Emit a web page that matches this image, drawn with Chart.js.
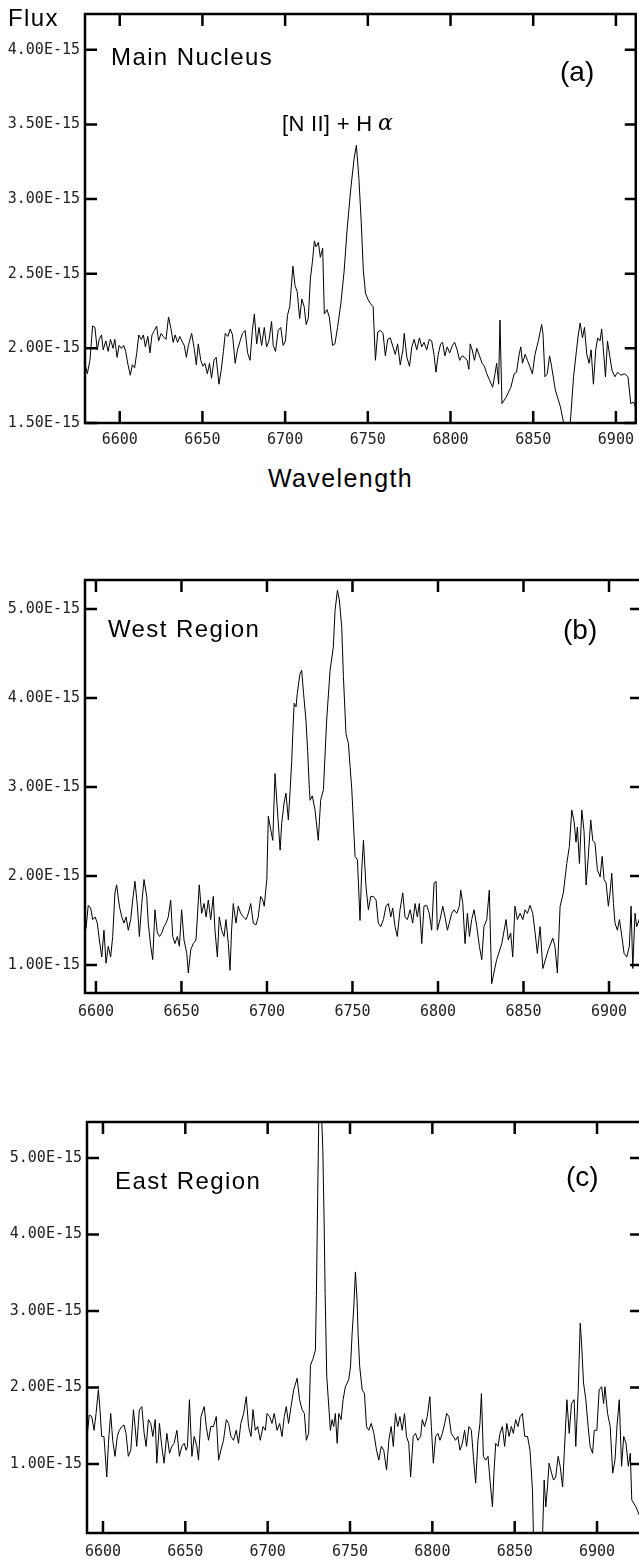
<!DOCTYPE html>
<html>
<head>
<meta charset="utf-8">
<script src="https://cdn.jsdelivr.net/npm/chart.js@4.4.1/dist/chart.umd.min.js"></script>
<style>
  html, body { margin: 0; padding: 0; background: #fff; overflow: hidden; width: 639px; height: 1560px; }
  canvas { position: absolute; left: 0; }
  .lbl {
    position: absolute; white-space: nowrap; color: #000;
    font-family: "Liberation Sans", Arial, sans-serif;
    font-size: 24px; line-height: 24px; letter-spacing: 1.4px;
  }
</style>
</head>
<body>
<canvas id="chartA" width="642" height="460" style="top:0px"></canvas>
<canvas id="chartB" width="642" height="465" style="top:560px"></canvas>
<canvas id="chartC" width="642" height="460" style="top:1100px"></canvas>

<div class="lbl" style="left:8px;top:6px">Flux</div>
<div class="lbl" style="left:111px;top:45px">Main Nucleus</div>
<div class="lbl" style="left:560px;top:58px;font-size:28px;line-height:28px;letter-spacing:0">(a)</div>
<div class="lbl" style="left:282px;top:113px;font-size:22px;line-height:22px;letter-spacing:0.3px">[N II] + H</div>
<div class="lbl" style="left:378px;top:112px;font-family:'DejaVu Serif',serif;font-style:italic;font-size:22px;line-height:22px;letter-spacing:0">α</div>
<div class="lbl" style="left:268px;top:466px;font-size:25px;line-height:25px">Wavelength</div>

<div class="lbl" style="left:108px;top:617px">West Region</div>
<div class="lbl" style="left:563px;top:616px;font-size:28px;line-height:28px;letter-spacing:0">(b)</div>

<div class="lbl" style="left:115px;top:1169px">East Region</div>
<div class="lbl" style="left:566px;top:1163px;font-size:28px;line-height:28px;letter-spacing:0">(c)</div>

<script>
// wavelength ticks shared by all panels
const waveTicks = [6600, 6650, 6700, 6750, 6800, 6850, 6900]

// (a) Main Nucleus, flux in units of 1E-15
const waveA = [6579.0, 6580.4, 6582.0, 6583.6, 6585.0, 6586.4, 6587.6, 6589.0, 6590.0, 6591.6, 6593.0, 6594.4, 6596.0, 6597.0, 6598.4, 6599.6,
  6601.0, 6602.4, 6603.6, 6605.0, 6606.4, 6607.6, 6609.0, 6610.3, 6611.5, 6613.0, 6614.3, 6615.5, 6617.0, 6618.3, 6619.5, 6621.0,
  6622.3, 6623.5, 6625.0, 6626.3, 6628.0, 6629.5, 6631.0, 6632.3, 6633.5, 6635.0, 6636.3, 6637.5, 6639.0, 6640.3, 6641.5, 6643.5,
  6645.0, 6646.3, 6647.5, 6649.0, 6650.3, 6651.5, 6653.0, 6654.3, 6655.5, 6657.0, 6658.3, 6660.0, 6661.3, 6662.7, 6663.8, 6665.4,
  6666.8, 6668.2, 6669.8, 6671.2, 6672.8, 6674.2, 6675.8, 6677.3, 6678.8, 6680.2, 6681.4, 6682.8, 6684.2, 6685.8, 6687.4, 6688.8,
  6690.2, 6691.8, 6692.8, 6694.2, 6695.8, 6697.4, 6698.8, 6700.2, 6701.4, 6702.8, 6704.7, 6706.0, 6707.3, 6708.8, 6710.1, 6711.5,
  6712.7, 6714.0, 6715.3, 6716.5, 6717.7, 6718.7, 6720.1, 6721.3, 6722.7, 6723.7, 6725.3, 6726.7, 6728.7, 6730.1, 6731.7, 6733.7,
  6735.7, 6737.5, 6739.7, 6741.7, 6743.1, 6744.6, 6746.0, 6747.3, 6748.6, 6750.0, 6751.6, 6753.2, 6754.6, 6756.0, 6757.6, 6759.2,
  6760.6, 6762.0, 6763.6, 6765.2, 6766.6, 6768.0, 6769.6, 6771.2, 6772.0, 6773.6, 6775.2, 6776.6, 6778.0, 6779.6, 6781.2, 6782.6,
  6784.0, 6785.6, 6787.2, 6788.6, 6790.0, 6791.2, 6792.6, 6794.0, 6795.2, 6796.6, 6798.0, 6799.5, 6801.2, 6802.5, 6804.0, 6805.5,
  6807.1, 6808.5, 6810.0, 6811.1, 6811.9, 6813.1, 6814.5, 6815.9, 6817.5, 6819.1, 6820.5, 6821.9, 6823.5, 6825.5, 6826.9, 6827.9,
  6829.1, 6829.9, 6831.1, 6833.5, 6836.5, 6838.5, 6839.9, 6841.5, 6842.5, 6843.5, 6845.1, 6846.5, 6847.9, 6849.5, 6851.1, 6853.1,
  6855.1, 6855.9, 6857.1, 6858.5, 6859.9, 6861.1, 6863.4, 6866.4, 6868.4, 6870.4, 6872.4, 6874.4, 6877.0, 6878.4, 6879.8, 6881.0,
  6882.4, 6883.8, 6885.0, 6886.4, 6887.8, 6889.0, 6890.4, 6891.4, 6892.3, 6893.7, 6894.9, 6896.4, 6897.7, 6899.4, 6901.0, 6903.0,
  6905.3, 6907.3, 6909.0, 6910.7, 6912.0]
const fluxA = [1.90, 1.83, 1.92, 2.15, 2.14, 1.99, 2.06, 2.09, 1.99, 2.05, 1.98, 2.06, 2.00, 2.06, 1.94, 2.02,
  2.00, 2.02, 1.98, 1.89, 1.82, 1.89, 1.87, 1.97, 2.09, 2.06, 2.09, 2.01, 2.08, 1.97, 2.09, 2.12,
  2.15, 2.05, 2.10, 2.08, 2.06, 2.21, 2.13, 2.04, 2.09, 2.04, 2.08, 2.05, 2.02, 1.94, 2.02, 2.10,
  2.00, 1.89, 2.03, 1.92, 1.88, 1.90, 1.83, 1.90, 1.80, 1.92, 1.94, 1.76, 1.85, 1.98, 2.10, 2.08,
  2.13, 2.09, 1.90, 1.99, 2.05, 2.10, 2.12, 1.97, 1.92, 2.12, 2.23, 2.03, 2.14, 2.02, 2.14, 2.01,
  2.05, 2.18, 2.02, 1.98, 2.12, 2.14, 2.02, 2.05, 2.22, 2.28, 2.55, 2.42, 2.38, 2.20, 2.33, 2.28,
  2.16, 2.20, 2.47, 2.58, 2.72, 2.68, 2.71, 2.61, 2.67, 2.23, 2.26, 2.21, 2.02, 2.03, 2.14, 2.30,
  2.52, 2.80, 3.07, 3.27, 3.36, 3.14, 2.85, 2.52, 2.37, 2.33, 2.30, 2.28, 1.92, 2.11, 2.12, 2.10,
  1.95, 2.06, 2.07, 2.01, 1.96, 2.03, 1.89, 1.99, 2.10, 1.94, 1.88, 2.01, 2.06, 1.99, 2.07, 2.01,
  2.04, 1.99, 2.06, 2.05, 1.96, 1.84, 1.96, 2.03, 2.04, 1.95, 2.01, 1.97, 2.02, 2.04, 1.99, 1.92,
  1.95, 1.94, 1.92, 1.86, 2.03, 1.99, 1.92, 2.00, 1.95, 1.90, 1.88, 1.83, 1.79, 1.74, 1.83, 1.90,
  1.76, 2.19, 1.63, 1.67, 1.74, 1.83, 1.84, 1.96, 2.01, 1.90, 1.96, 1.92, 1.88, 1.83, 1.96, 2.05,
  2.16, 2.10, 1.81, 1.83, 1.95, 1.88, 1.72, 1.61, 1.50, 1.38, 1.50, 1.81, 2.07, 2.17, 2.07, 2.14,
  1.96, 1.90, 1.99, 1.76, 1.99, 2.07, 2.05, 2.13, 2.01, 1.81, 2.05, 1.94, 1.85, 1.81, 1.84, 1.82,
  1.83, 1.81, 1.63, 1.64, 1.60]
const fluxTicksA = [1.5, 2.0, 2.5, 3.0, 3.5, 4.0]

// (b) West Region
const waveB = [6594.2, 6595.5, 6596.9, 6598.1, 6599.5, 6600.8, 6602.0, 6603.4, 6604.7, 6605.9, 6607.2, 6608.6, 6609.8, 6611.1, 6612.1, 6613.7,
  6615.1, 6616.4, 6617.6, 6618.9, 6620.3, 6621.5, 6622.8, 6624.2, 6625.4, 6626.8, 6628.1, 6629.7, 6630.6, 6632.0, 6633.2, 6634.5,
  6635.9, 6637.2, 6638.5, 6639.8, 6641.0, 6642.3, 6643.7, 6644.9, 6646.2, 6647.6, 6648.8, 6650.1, 6651.5, 6653.1, 6654.0, 6655.4,
  6656.9, 6658.5, 6659.3, 6660.4, 6661.8, 6663.2, 6664.4, 6665.7, 6667.1, 6668.6, 6669.6, 6671.0, 6672.1, 6673.5, 6674.9, 6676.0,
  6677.4, 6678.4, 6679.3, 6680.3, 6681.9, 6683.2, 6684.6, 6686.2, 6687.8, 6689.1, 6690.5, 6692.0, 6693.6, 6694.9, 6696.3, 6697.5,
  6698.4, 6699.9, 6700.8, 6702.2, 6703.4, 6704.7, 6706.1, 6707.7, 6708.6, 6710.0, 6711.1, 6712.5, 6713.5, 6714.5, 6715.1, 6715.9,
  6717.0, 6717.7, 6719.3, 6720.3, 6721.4, 6722.8, 6723.8, 6724.8, 6725.2, 6726.5, 6728.1, 6730.0, 6731.4, 6733.0, 6734.9, 6736.9,
  6738.8, 6739.8, 6741.2, 6742.3, 6743.7, 6744.7, 6746.2, 6747.6, 6748.6, 6749.6, 6751.5, 6752.9, 6754.4, 6755.4, 6756.4, 6757.9,
  6759.3, 6760.7, 6762.2, 6763.8, 6765.1, 6766.5, 6768.1, 6769.6, 6771.0, 6772.4, 6773.5, 6774.9, 6776.2, 6777.8, 6779.4, 6780.7,
  6782.1, 6783.7, 6785.2, 6786.6, 6787.9, 6789.1, 6790.5, 6791.8, 6793.4, 6794.9, 6796.3, 6797.7, 6798.9, 6799.6, 6801.2, 6802.8,
  6804.1, 6805.5, 6806.6, 6808.0, 6809.4, 6811.0, 6812.5, 6813.3, 6814.5, 6815.8, 6817.2, 6818.4, 6819.7, 6821.1, 6822.7, 6824.2,
  6825.6, 6826.9, 6828.5, 6830.0, 6831.4, 6834.3, 6837.3, 6839.8, 6841.1, 6842.5, 6843.7, 6845.0, 6846.4, 6848.0, 6849.6, 6850.9,
  6852.3, 6853.8, 6855.4, 6856.8, 6858.1, 6859.7, 6861.3, 6864.5, 6867.1, 6868.4, 6869.8, 6871.4, 6873.3, 6875.3, 6876.8, 6878.2,
  6879.6, 6880.7, 6881.5, 6882.7, 6884.1, 6885.4, 6886.6, 6887.9, 6889.3, 6890.5, 6891.8, 6893.2, 6894.8, 6896.0, 6897.1, 6898.3,
  6899.6, 6900.6, 6901.6, 6902.6, 6903.5, 6904.9, 6906.1, 6907.5, 6908.8, 6910.4, 6911.9, 6912.9, 6913.9, 6915.2, 6916.2, 6917.6,
  6919.0]
const fluxB = [1.41, 1.67, 1.64, 1.51, 1.54, 1.47, 1.28, 1.09, 1.39, 1.02, 1.21, 1.09, 1.32, 1.81, 1.90, 1.66,
  1.54, 1.47, 1.54, 1.39, 1.51, 1.73, 1.94, 1.67, 1.32, 1.69, 1.96, 1.77, 1.47, 1.21, 1.06, 1.62,
  1.36, 1.32, 1.36, 1.43, 1.47, 1.54, 1.73, 1.32, 1.24, 1.32, 1.21, 1.62, 1.28, 1.13, 0.91, 1.17,
  1.24, 1.28, 1.54, 1.90, 1.58, 1.69, 1.54, 1.73, 1.51, 1.77, 1.39, 1.09, 1.54, 1.39, 1.32, 1.51,
  1.24, 0.94, 1.39, 1.69, 1.47, 1.66, 1.58, 1.54, 1.51, 1.58, 1.69, 1.47, 1.45, 1.54, 1.77, 1.73,
  1.66, 1.96, 2.67, 2.52, 2.40, 3.15, 2.74, 2.29, 2.59, 2.82, 2.93, 2.63, 2.95, 3.30, 3.60, 3.94,
  3.90, 4.05, 4.27, 4.31, 4.05, 3.75, 3.40, 2.97, 2.85, 2.90, 2.74, 2.40, 2.85, 2.97, 3.75, 4.31,
  4.57, 4.98, 5.21, 5.10, 4.80, 4.24, 3.60, 3.49, 3.23, 2.97, 2.22, 2.18, 1.50, 2.06, 2.40, 1.88,
  1.62, 1.77, 1.77, 1.73, 1.47, 1.43, 1.51, 1.66, 1.69, 1.54, 1.64, 1.43, 1.32, 1.62, 1.81, 1.54,
  1.51, 1.62, 1.47, 1.69, 1.54, 1.69, 1.24, 1.66, 1.67, 1.58, 1.39, 1.92, 1.94, 1.39, 1.51, 1.66,
  1.54, 1.39, 1.47, 1.58, 1.62, 1.58, 1.66, 1.84, 1.69, 1.24, 1.58, 1.32, 1.51, 1.62, 1.43, 1.21,
  1.06, 1.43, 1.51, 1.84, 0.79, 1.06, 1.24, 1.51, 1.28, 1.36, 1.09, 1.66, 1.51, 1.58, 1.51, 1.62,
  1.58, 1.67, 1.58, 1.36, 1.13, 1.43, 0.96, 1.17, 1.30, 1.21, 0.91, 1.66, 1.81, 2.14, 2.33, 2.74,
  2.61, 2.38, 2.55, 2.14, 2.74, 2.50, 1.90, 2.22, 2.63, 2.40, 2.37, 2.07, 1.99, 2.22, 1.96, 1.92,
  1.66, 1.81, 2.03, 1.69, 1.47, 1.39, 1.51, 1.32, 1.13, 1.09, 1.21, 1.66, 0.96, 1.58, 1.43, 1.51,
  1.45]
const fluxTicksB = [1.0, 2.0, 3.0, 4.0, 5.0]

// (c) East Region
const waveC = [6590.5, 6591.7, 6593.2, 6594.6, 6595.8, 6597.2, 6598.2, 6599.2, 6600.6, 6602.3, 6603.3, 6604.7, 6605.9, 6607.3, 6608.7, 6609.9,
  6611.4, 6612.8, 6614.0, 6615.4, 6616.9, 6618.5, 6619.5, 6620.5, 6622.1, 6623.6, 6625.0, 6626.2, 6627.6, 6629.0, 6630.3, 6631.7,
  6632.7, 6634.3, 6635.7, 6637.1, 6638.8, 6640.4, 6641.8, 6643.2, 6644.9, 6646.4, 6647.9, 6649.3, 6650.5, 6651.3, 6652.5, 6654.0,
  6655.4, 6657.0, 6658.0, 6659.5, 6661.5, 6662.7, 6664.1, 6665.5, 6667.1, 6668.8, 6670.2, 6671.6, 6673.2, 6674.9, 6676.3, 6677.7,
  6679.3, 6680.9, 6682.3, 6683.7, 6685.4, 6687.0, 6688.4, 6689.9, 6691.1, 6692.5, 6693.9, 6695.5, 6697.2, 6698.6, 6699.6, 6701.2,
  6702.6, 6704.0, 6705.7, 6707.3, 6708.7, 6710.1, 6711.3, 6712.7, 6714.2, 6715.8, 6717.9, 6719.4, 6720.9, 6722.3, 6723.5, 6724.9,
  6726.0, 6727.6, 6729.0, 6729.6, 6730.4, 6731.0, 6732.0, 6733.5, 6734.3, 6734.9, 6735.9, 6738.1, 6739.1, 6740.1, 6741.1, 6742.2,
  6743.2, 6744.6, 6745.8, 6747.2, 6749.2, 6750.3, 6751.3, 6752.3, 6753.3, 6754.3, 6754.9, 6755.9, 6757.4, 6758.8, 6760.0, 6761.4,
  6762.9, 6764.5, 6766.1, 6767.5, 6769.0, 6770.5, 6772.2, 6773.6, 6775.0, 6776.3, 6777.6, 6779.0, 6780.3, 6781.7, 6783.1, 6784.3,
  6785.7, 6786.8, 6788.4, 6789.8, 6791.2, 6792.9, 6793.9, 6795.3, 6796.9, 6798.5, 6799.4, 6800.6, 6802.0, 6803.4, 6804.6, 6806.1,
  6807.5, 6808.7, 6810.1, 6811.5, 6812.7, 6814.1, 6815.5, 6816.8, 6818.2, 6819.6, 6820.8, 6822.2, 6823.7, 6824.9, 6826.3, 6827.7,
  6828.9, 6829.8, 6831.0, 6832.4, 6833.8, 6835.0, 6836.5, 6837.4, 6838.5, 6839.9, 6841.1, 6842.5, 6843.9, 6845.2, 6846.6, 6848.0,
  6849.2, 6850.6, 6852.0, 6853.3, 6854.7, 6856.1, 6857.8, 6859.3, 6860.8, 6861.4, 6863.8, 6866.9, 6867.9, 6868.9, 6869.9, 6870.9,
  6872.4, 6873.6, 6874.9, 6876.4, 6877.6, 6879.1, 6880.1, 6881.7, 6883.1, 6884.5, 6886.1, 6887.1, 6888.6, 6889.8, 6890.6, 6891.8,
  6893.2, 6894.6, 6895.8, 6897.3, 6898.3, 6899.9, 6901.3, 6902.8, 6904.0, 6904.8, 6906.4, 6908.0, 6909.5, 6910.9, 6912.1, 6913.5,
  6914.9, 6916.2, 6917.6, 6919.0, 6920.2, 6921.1, 6923.6, 6926.1, 6927.0]
const fluxC = [1.40, 1.64, 1.62, 1.44, 1.66, 1.97, 1.71, 1.36, 1.36, 0.83, 1.27, 1.66, 1.31, 1.10, 1.36, 1.44,
  1.49, 1.51, 1.40, 1.10, 1.18, 1.71, 1.49, 1.23, 1.71, 1.75, 1.40, 1.23, 1.58, 1.53, 1.36, 1.58,
  1.01, 1.53, 1.23, 1.01, 1.40, 1.14, 1.23, 1.27, 1.44, 1.10, 1.23, 1.27, 1.18, 1.23, 1.84, 1.10,
  1.36, 1.23, 1.05, 1.62, 1.75, 1.49, 1.31, 1.49, 1.49, 1.62, 1.05, 1.18, 1.31, 1.58, 1.53, 1.36,
  1.31, 1.44, 1.27, 1.53, 1.66, 1.88, 1.49, 1.36, 1.71, 1.44, 1.49, 1.31, 1.49, 1.44, 1.66, 1.62,
  1.53, 1.66, 1.44, 1.53, 1.36, 1.62, 1.75, 1.53, 1.75, 1.97, 2.12, 1.84, 1.71, 1.66, 1.31, 1.40,
  2.29, 2.38, 2.49, 3.20, 4.54, 5.46, 6.00, 5.10, 4.15, 3.23, 2.14, 1.44, 1.58, 1.49, 1.66, 1.27,
  1.66, 1.58, 1.84, 2.01, 2.10, 2.27, 2.71, 3.05, 3.51, 3.14, 2.71, 2.27, 1.97, 1.92, 1.49, 1.44,
  1.53, 1.40, 1.18, 1.05, 1.23, 1.18, 0.92, 1.31, 1.49, 1.23, 1.66, 1.49, 1.62, 1.44, 1.66, 1.36,
  1.27, 0.83, 1.36, 1.40, 1.31, 1.36, 1.58, 1.49, 1.62, 1.88, 1.49, 1.01, 1.36, 1.40, 1.31, 1.40,
  1.53, 1.66, 1.62, 1.40, 1.36, 1.31, 1.36, 1.18, 1.27, 1.44, 1.23, 1.49, 1.44, 1.10, 0.75, 1.31,
  1.53, 1.92, 1.10, 1.05, 1.10, 0.79, 0.44, 0.88, 1.27, 1.23, 1.40, 1.49, 1.23, 1.53, 1.36, 1.49,
  1.40, 1.58, 1.49, 1.62, 1.66, 1.36, 1.36, 1.18, 0.66, 0.05, -0.20, 0.05, 0.79, 0.44, 0.70, 1.01,
  0.88, 0.79, 0.83, 1.10, 0.97, 0.70, 1.14, 1.84, 1.40, 1.79, 1.84, 1.23, 1.97, 2.84, 2.58, 2.06,
  1.84, 1.49, 1.23, 1.14, 1.44, 1.44, 1.97, 2.01, 1.79, 2.01, 1.66, 1.49, 0.88, 1.05, 1.49, 1.84,
  0.97, 1.36, 1.27, 0.97, 1.14, 0.53, 0.44, 0.31, 0.28]
const fluxTicksC = [1.0, 2.0, 3.0, 4.0, 5.0]

const tickFont = { family: '"DejaVu Sans Mono", monospace', size: 15 }

// box round the plot area, with inward ticks on all four sides
const framePlugin = {
  id: 'frame',
  afterDatasetsDraw(chart) {
    const { ctx, chartArea: a, scales: { x, y } } = chart
    ctx.save()
    ctx.strokeStyle = '#000'
    ctx.lineWidth = 2.5
    ctx.strokeRect(a.left, a.top, a.right - a.left, a.bottom - a.top)
    ctx.beginPath()
    x.ticks.forEach(t => {
      const px = x.getPixelForValue(t.value)
      ctx.moveTo(px, a.top)
      ctx.lineTo(px, a.top + 12)
      ctx.moveTo(px, a.bottom)
      ctx.lineTo(px, a.bottom - 12)
    })
    y.ticks.forEach(t => {
      const py = y.getPixelForValue(t.value)
      ctx.moveTo(a.left, py)
      ctx.lineTo(a.left + 12, py)
      ctx.moveTo(a.right, py)
      ctx.lineTo(a.right - 11, py)
    })
    ctx.stroke()
    ctx.restore()
  }
}

function makeChart(id, wave, flux, opts) {
  const points = wave.map((w, i) => ({ x: w, y: flux[i] }))
  return new Chart(document.getElementById(id), {
    type: 'line',
    data: {
      datasets: [{
        data: points,
        borderColor: '#000',
        borderWidth: 1,
        pointRadius: 0,
        tension: 0
      }]
    },
    options: {
      responsive: false,
      animation: false,
      parsing: false,
      layout: { padding: { top: opts.padTop, right: 1, left: 0, bottom: 0 } },
      plugins: { legend: { display: false }, tooltip: { enabled: false } },
      scales: {
        x: {
          type: 'linear',
          min: opts.xMin,
          max: opts.xMax,
          afterBuildTicks: s => { s.ticks = waveTicks.map(v => ({ value: v })) },
          afterFit: s => { s.height = opts.xHeight },
          grid: { display: false, drawTicks: false },
          border: { display: false },
          ticks: { padding: opts.xPad, font: tickFont, color: '#222', maxRotation: 0, autoSkip: false,
            callback: v => String(v) }
        },
        y: {
          min: opts.yMin,
          max: opts.yMax,
          afterBuildTicks: s => { s.ticks = opts.yTicks.map(v => ({ value: v })) },
          afterFit: s => { s.width = opts.yWidth },
          grid: { display: false, drawTicks: false },
          border: { display: false },
          ticks: { padding: 5, font: tickFont, color: '#222',
            callback: v => v.toFixed(2) + 'E-15' }
        }
      }
    },
    plugins: [framePlugin]
  })
}

makeChart('chartA', waveA, fluxA, {
  xMin: 6579.0, xMax: 6912.0, yMin: 1.5, yMax: 4.24, yTicks: fluxTicksA,
  padTop: 12, xHeight: 37, xPad: 8, yWidth: 85
})
makeChart('chartB', waveB, fluxB, {
  xMin: 6593.6, xMax: 6918.7, yMin: 0.685, yMax: 5.325, yTicks: fluxTicksB,
  padTop: 20, xHeight: 32, xPad: 10, yWidth: 85
})
makeChart('chartC', waveC, fluxC, {
  xMin: 6590.3, xMax: 6926.7, yMin: 0.098, yMax: 5.47, yTicks: fluxTicksC,
  padTop: 22, xHeight: 27, xPad: 10, yWidth: 87
})
</script>
</body>
</html>
